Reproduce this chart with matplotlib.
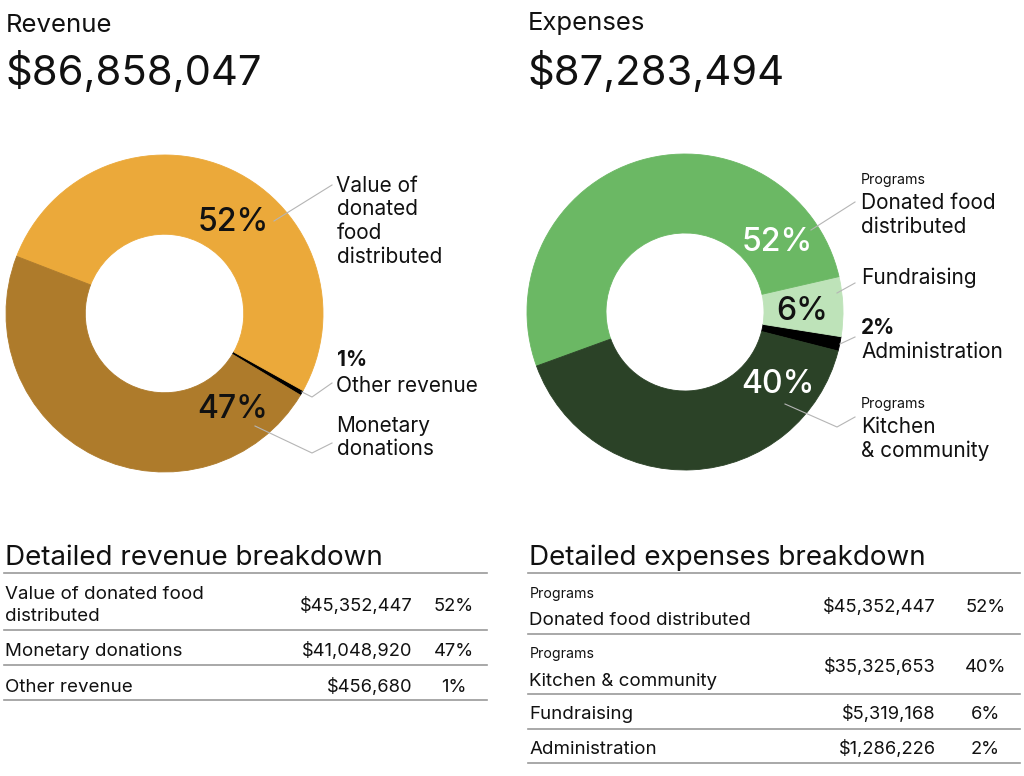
import matplotlib
matplotlib.use("Agg")
import matplotlib.pyplot as plt

plt.rcParams["font.family"] = ["Inter", "DejaVu Sans"]

# revenue
rev_names = ["Value of donated food distributed", "Monetary donations", "Other revenue"]
rev_values = [45352447, 41048920, 456680]
rev_pct = [52, 47, 1]
rev_colors = ["#EBA93A", "#AE7B2B", "#000000"]

# expenses
exp_groups = ["Programs", "Programs", "", ""]
exp_names = ["Donated food distributed", "Kitchen & community", "Fundraising", "Administration"]
exp_values = [45352447, 35325653, 5319168, 1286226]
exp_pct = [52, 40, 6, 2]
exp_colors = ["#6BB864", "#2B4227", "#BEE3B9", "#000000"]

W, H = 1024, 776
fig = plt.figure(figsize=(W / 100, H / 100), dpi=100)


def donut(cx, cy, r, values, colors, order, start):
    ax = fig.add_axes([(cx - r) / W, (H - cy - r) / H, 2 * r / W, 2 * r / H])
    vals = [values[i] for i in order]
    cols = [colors[i] for i in order]
    ax.pie(vals, colors=cols, startangle=start, counterclock=True,
           radius=1, wedgeprops=dict(width=0.5, linewidth=0.6))
    for w, c in zip(ax.patches, cols):
        w.set_edgecolor(c)
    ax.set_xlim(-1, 1)
    ax.set_ylim(-1, 1)
    ax.set_aspect("equal")
    ax.axis("off")
    return ax


donut(164.5, 313.5, 158.5, rev_values, rev_colors, [2, 0, 1], -31)
donut(685, 312, 158, exp_values, exp_colors, [3, 2, 0, 1], -14.3)

# overlay in pixel coordinates for all the text and leader lines
ov = fig.add_axes([0, 0, 1, 1])
ov.set_xlim(0, W)
ov.set_ylim(H, 0)
ov.axis("off")
ov.set_facecolor("none")

ink = "#111111"
rule = "#9a9a9a"
lead = "#b5b5b5"

fmt = lambda v: "${:,}".format(v)

# headers
ov.text(6, 31.5, "Revenue", fontsize=18.5, color=ink, va="baseline")
ov.text(5, 85, fmt(sum(rev_values)), fontsize=30, color=ink, va="baseline")
ov.text(528, 30, "Expenses", fontsize=18.5, color=ink, va="baseline")
ov.text(527, 85, fmt(sum(exp_values)), fontsize=30, color=ink, va="baseline")

# revenue donut labels
pct_fs = 23
pct_w = "medium"
ov.text(233, 230.7, f"{rev_pct[0]}%", fontsize=pct_fs, fontweight=pct_w, ha="center", va="baseline", color=ink)
ov.text(233, 418.3, f"{rev_pct[1]}%", fontsize=pct_fs, fontweight=pct_w, ha="center", va="baseline", color=ink)

lab_fs = 15
lx = 336.5
for y, s in zip([191.7, 215, 239, 262.7], ["Value of", "donated", "food", "distributed"]):
    ov.text(lx, y, s, fontsize=lab_fs, va="baseline", color=ink)
ov.text(lx, 366, f"{rev_pct[2]}%", fontsize=lab_fs, fontweight="bold", va="baseline", color=ink)
ov.text(lx, 391.7, rev_names[2], fontsize=lab_fs, va="baseline", color=ink)
ov.text(lx, 431.7, "Monetary", fontsize=lab_fs, va="baseline", color=ink)
ov.text(lx, 455, "donations", fontsize=lab_fs, va="baseline", color=ink)

ov.plot([274, 332], [221, 185], color=lead, lw=0.8)
ov.plot([302, 312, 332], [392, 397, 383], color=lead, lw=0.8)
ov.plot([255, 312, 332], [426, 453, 443], color=lead, lw=0.8)

# expense donut labels
ov.text(777, 251, f"{exp_pct[0]}%", fontsize=pct_fs, fontweight=pct_w, ha="center", va="baseline", color="white")
ov.text(802, 320, f"{exp_pct[2]}%", fontsize=pct_fs, fontweight=pct_w, ha="center", va="baseline", color=ink)
ov.text(778, 393.3, f"{exp_pct[1]}%", fontsize=pct_fs, fontweight=pct_w, ha="center", va="baseline", color="white")

ex = 861
small_fs = 10.2
ov.text(ex, 184, exp_groups[0], fontsize=small_fs, va="baseline", color=ink)
ov.text(ex, 209, "Donated food", fontsize=lab_fs, va="baseline", color=ink)
ov.text(ex, 232.7, "distributed", fontsize=lab_fs, va="baseline", color=ink)
ov.text(ex, 284.3, exp_names[2], fontsize=lab_fs, va="baseline", color=ink)
ov.text(ex, 334.3, f"{exp_pct[3]}%", fontsize=lab_fs, fontweight="bold", va="baseline", color=ink)
ov.text(ex, 358.3, exp_names[3], fontsize=lab_fs, va="baseline", color=ink)
ov.text(ex, 408.3, exp_groups[1], fontsize=small_fs, va="baseline", color=ink)
ov.text(ex, 433.3, "Kitchen", fontsize=lab_fs, va="baseline", color=ink)
ov.text(ex, 456.7, "& community", fontsize=lab_fs, va="baseline", color=ink)

ov.plot([811, 855], [230, 202], color=lead, lw=0.8)
ov.plot([837, 855], [293, 283], color=lead, lw=0.8)
ov.plot([840, 855], [344, 337], color=lead, lw=0.8)
ov.plot([785, 837, 855], [404, 427, 417], color=lead, lw=0.8)

# tables
tbl_title_fs = 20
tbl_fs = 13.5
num_fs = 13.2

ov.text(5, 565, "Detailed revenue breakdown", fontsize=tbl_title_fs, va="baseline", color=ink)
for y in [573.3, 630, 665, 700]:
    ov.plot([4, 487], [y, y], color=rule, lw=1.2)
rev_rows = [(["Value of donated food", "distributed"], [599.3, 620.7], 611),
            ([rev_names[1]], [656], 656),
            ([rev_names[2]], [691.7], 691.7)]
for i, (lines, ys, vy) in enumerate(rev_rows):
    for s, y in zip(lines, ys):
        ov.text(5, y, s, fontsize=tbl_fs, va="baseline", color=ink)
    ov.text(412.7, vy, fmt(rev_values[i]), fontsize=num_fs, ha="right", va="baseline", color=ink)
    ov.text(453.7, vy, f"{rev_pct[i]}%", fontsize=num_fs, ha="center", va="baseline", color=ink)

ov.text(528.7, 565, "Detailed expenses breakdown", fontsize=tbl_title_fs, va="baseline", color=ink)
for y in [573.3, 634, 694, 729, 763.3]:
    ov.plot([528, 1020], [y, y], color=rule, lw=1.2)
exp_rows = [(598.3, 625, 611.7), (658.3, 685.7, 671.7), (None, 719.3, 719.3), (None, 754, 754)]
for i, (gy, ny, vy) in enumerate(exp_rows):
    if gy is not None:
        ov.text(529.3, gy, exp_groups[i], fontsize=small_fs, va="baseline", color=ink)
    ov.text(529.3, ny, exp_names[i], fontsize=tbl_fs, va="baseline", color=ink)
    ov.text(936, vy, fmt(exp_values[i]), fontsize=num_fs, ha="right", va="baseline", color=ink)
    ov.text(985.3, vy, f"{exp_pct[i]}%", fontsize=num_fs, ha="center", va="baseline", color=ink)

fig.savefig("out.png", dpi=100, facecolor="white")
